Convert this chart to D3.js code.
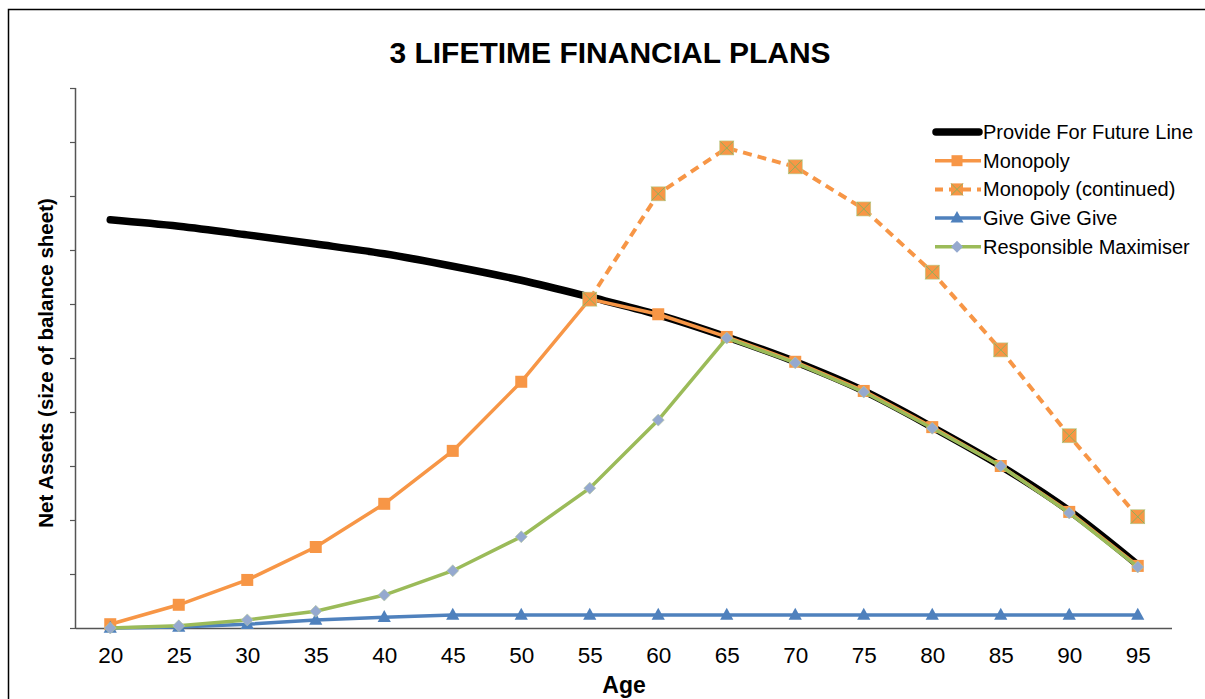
<!DOCTYPE html>
<html>
<head>
<meta charset="utf-8">
<script src="https://cdn.jsdelivr.net/npm/d3@7"></script>
<style>
  html, body { margin: 0; padding: 0; background: #fff; }
  svg { display: block; font-family: "Liberation Sans", Arial, sans-serif; }
</style>
</head>
<body>
<svg id="chart" width="1205" height="699"></svg>
<script>
// Ages along the horizontal axis
const ages = [20, 25, 30, 35, 40, 45, 50, 55, 60, 65, 70, 75, 80, 85, 90, 95];

// Net assets (arbitrary units, one unit per gridline tick)
const provideForFuture = [7.56, 7.44, 7.28, 7.11, 6.93, 6.70, 6.44, 6.13, 5.80, 5.39, 4.93, 4.39, 3.72, 3.00, 2.17, 1.17];
const monopoly = [0.07, 0.43, 0.89, 1.50, 2.30, 3.28, 4.56, 6.09, 5.81, 5.39, 4.93, 4.39, 3.72, 3.00, 2.15, 1.15];
// Continuation of Monopoly from age 55 onwards
const monopolyContinuedAges = [55, 60, 65, 70, 75, 80, 85, 90, 95];
const monopolyContinued = [6.09, 8.04, 8.89, 8.54, 7.76, 6.59, 5.15, 3.56, 2.06];
const giveGiveGive = [0.00, 0.02, 0.07, 0.15, 0.20, 0.24, 0.24, 0.24, 0.24, 0.24, 0.24, 0.24, 0.24, 0.24, 0.24, 0.24];
const responsibleMaximiser = [0.00, 0.04, 0.15, 0.31, 0.61, 1.06, 1.69, 2.59, 3.85, 5.37, 4.91, 4.37, 3.70, 3.00, 2.13, 1.13];

const yTicks = d3.range(0, 11);

const legendLabels = ["Provide For Future Line", "Monopoly", "Monopoly (continued)", "Give Give Give", "Responsible Maximiser"];

const colors = {
  black: "#000000",
  orange: "#f79646",
  blue: "#4f81bd",
  green: "#9bbb59",
  diamond: "#95a9cf",
  cross: "#8fb05a"
};

const svg = d3.select("#chart");

// Outer chart border
svg.append("rect")
  .attr("x", 8.5).attr("y", 9.5)
  .attr("width", 1220).attr("height", 720)
  .attr("fill", "none").attr("stroke", "#000").attr("stroke-width", 1.5);

const plot = { left: 76, right: 1172, top: 88, bottom: 628 };

const x = d3.scalePoint().domain(ages).range([plot.left, plot.right]).padding(0.5);
const y = d3.scaleLinear().domain([0, 10]).range([plot.bottom, plot.top]);

// Title
svg.append("text")
  .attr("x", 610).attr("y", 63)
  .attr("text-anchor", "middle")
  .attr("font-size", 30).attr("font-weight", "bold")
  .text("3 LIFETIME FINANCIAL PLANS");

// Y axis (ticks only, no labels)
const yAxis = svg.append("g")
  .attr("transform", `translate(${plot.left},0)`)
  .call(d3.axisLeft(y).tickValues(yTicks).tickSize(6).tickFormat(""));
yAxis.select(".domain").attr("d", `M-0.5,${plot.top}V${plot.bottom}`).attr("stroke", "#555").attr("stroke-width", 1.5);
yAxis.selectAll(".tick line").attr("stroke", "#555").attr("stroke-width", 1.2);

// X axis (labels only, no tick marks)
const xAxis = svg.append("g")
  .attr("transform", `translate(0,${plot.bottom})`)
  .call(d3.axisBottom(x).tickSize(0).tickPadding(19));
xAxis.select(".domain").attr("d", `M${plot.left},0.5H${plot.right}`).attr("stroke", "#555").attr("stroke-width", 1.5);
xAxis.selectAll(".tick text")
  .attr("font-size", 22.5).attr("fill", "#000")
  .attr("font-family", "'Liberation Sans', Arial, sans-serif");

// Axis titles
svg.append("text")
  .attr("transform", `translate(53,${(plot.top + plot.bottom) / 2 + 5}) rotate(-90)`)
  .attr("text-anchor", "middle")
  .attr("font-size", 20.5).attr("font-weight", "bold")
  .text("Net Assets (size of balance sheet)");

svg.append("text")
  .attr("x", 624).attr("y", 693)
  .attr("text-anchor", "middle")
  .attr("font-size", 23).attr("font-weight", "bold")
  .text("Age");

const line = d3.line().x(d => x(d[0])).y(d => y(d[1]));
const smooth = d3.line().x(d => x(d[0])).y(d => y(d[1])).curve(d3.curveMonotoneX);

const zip = (xs, ys) => xs.map((a, i) => [a, ys[i]]);

// Marker helpers
function squares(g, pts, size, fill) {
  g.selectAll(null).data(pts).enter().append("rect")
    .attr("x", d => x(d[0]) - size / 2).attr("y", d => y(d[1]) - size / 2)
    .attr("width", size).attr("height", size).attr("fill", fill);
}
function crossSquares(g, pts, size) {
  const s = g.selectAll(null).data(pts).enter().append("g")
    .attr("transform", d => `translate(${x(d[0])},${y(d[1])})`);
  s.append("rect").attr("x", -size / 2).attr("y", -size / 2)
    .attr("width", size).attr("height", size).attr("fill", colors.orange);
  s.append("path").attr("d", `M${-size / 2},${-size / 2}L${size / 2},${size / 2}M${size / 2},${-size / 2}L${-size / 2},${size / 2}`)
    .attr("stroke", colors.cross).attr("stroke-width", 1).attr("fill", "none");
  s.append("rect").attr("x", -size / 2).attr("y", -size / 2)
    .attr("width", size).attr("height", size).attr("fill", "none")
    .attr("stroke", "#b7cc8a").attr("stroke-width", 0.6);
}
function triangles(g, pts, size, fill) {
  g.selectAll(null).data(pts).enter().append("path")
    .attr("transform", d => `translate(${x(d[0])},${y(d[1])})`)
    .attr("d", `M0,${-size * 0.6}L${size * 0.55},${size * 0.4}L${-size * 0.55},${size * 0.4}Z`)
    .attr("fill", fill);
}
function diamonds(g, pts, size, fill) {
  g.selectAll(null).data(pts).enter().append("path")
    .attr("transform", d => `translate(${x(d[0])},${y(d[1])})`)
    .attr("d", `M0,${-size / 2}L${size / 2},0L0,${size / 2}L${-size / 2},0Z`)
    .attr("fill", fill).attr("stroke", "#b9c9a0").attr("stroke-width", 0.6);
}

const series = svg.append("g");

// Provide For Future Line: thick black curve
series.append("path")
  .attr("d", smooth(zip(ages, provideForFuture)))
  .attr("fill", "none").attr("stroke", colors.black)
  .attr("stroke-width", 7.5).attr("stroke-linecap", "round").attr("stroke-linejoin", "round");

// Monopoly
const monoPts = zip(ages, monopoly);
series.append("path").attr("d", line(monoPts))
  .attr("fill", "none").attr("stroke", colors.orange).attr("stroke-width", 3.5);
squares(series.append("g"), monoPts, 12, colors.orange);

// Give Give Give
const givePts = zip(ages, giveGiveGive);
series.append("path").attr("d", line(givePts))
  .attr("fill", "none").attr("stroke", colors.blue).attr("stroke-width", 3.5);
triangles(series.append("g"), givePts, 12, colors.blue);

// Monopoly (continued): dashed
const contPts = zip(monopolyContinuedAges, monopolyContinued);
series.append("path").attr("d", line(contPts))
  .attr("fill", "none").attr("stroke", colors.orange).attr("stroke-width", 4)
  .attr("stroke-dasharray", "9,6");
crossSquares(series.append("g"), contPts, 14);

// Responsible Maximiser
const respPts = zip(ages, responsibleMaximiser);
series.append("path").attr("d", line(respPts))
  .attr("fill", "none").attr("stroke", colors.green).attr("stroke-width", 3.5);
diamonds(series.append("g"), respPts, 12, colors.diamond);

// Legend
const legend = svg.append("g").attr("transform", "translate(933,132)");
const rowH = 28.7;
legendLabels.forEach((label, i) => {
  const g = legend.append("g").attr("transform", `translate(0,${i * rowH})`);
  const x0 = 0, x1 = 48, cx = 24;
  if (i === 0) {
    g.append("line").attr("x1", x0 + 3).attr("x2", x1 - 2).attr("y1", 0).attr("y2", 0)
      .attr("stroke", colors.black).attr("stroke-width", 7.5).attr("stroke-linecap", "round");
  } else if (i === 1) {
    g.append("line").attr("x1", x0 + 2).attr("x2", x1).attr("stroke", colors.orange).attr("stroke-width", 3.5);
    g.append("rect").attr("x", cx - 5.5).attr("y", -5.5).attr("width", 11).attr("height", 11).attr("fill", colors.orange);
  } else if (i === 2) {
    g.append("line").attr("x1", x0 + 2).attr("x2", x1).attr("stroke", colors.orange).attr("stroke-width", 4)
      .attr("stroke-dasharray", "8,6");
    g.append("rect").attr("x", cx - 6).attr("y", -6).attr("width", 12).attr("height", 12).attr("fill", colors.orange);
    g.append("path").attr("d", `M${cx - 6},-6L${cx + 6},6M${cx + 6},-6L${cx - 6},6`)
      .attr("stroke", colors.cross).attr("stroke-width", 1);
  } else if (i === 3) {
    g.append("line").attr("x1", x0 + 2).attr("x2", x1).attr("stroke", colors.blue).attr("stroke-width", 3.5);
    g.append("path").attr("d", `M${cx},-7L${cx + 6.5},4.5L${cx - 6.5},4.5Z`).attr("fill", colors.blue);
  } else {
    g.append("line").attr("x1", x0 + 2).attr("x2", x1).attr("stroke", colors.green).attr("stroke-width", 3.5);
    g.append("path").attr("d", `M${cx},-6L${cx + 6},0L${cx},6L${cx - 6},0Z`).attr("fill", colors.diamond);
  }
  g.append("text").attr("x", 50).attr("y", 7)
    .attr("font-size", 20).attr("fill", "#000")
    .text(label);
});
</script>
</body>
</html>
